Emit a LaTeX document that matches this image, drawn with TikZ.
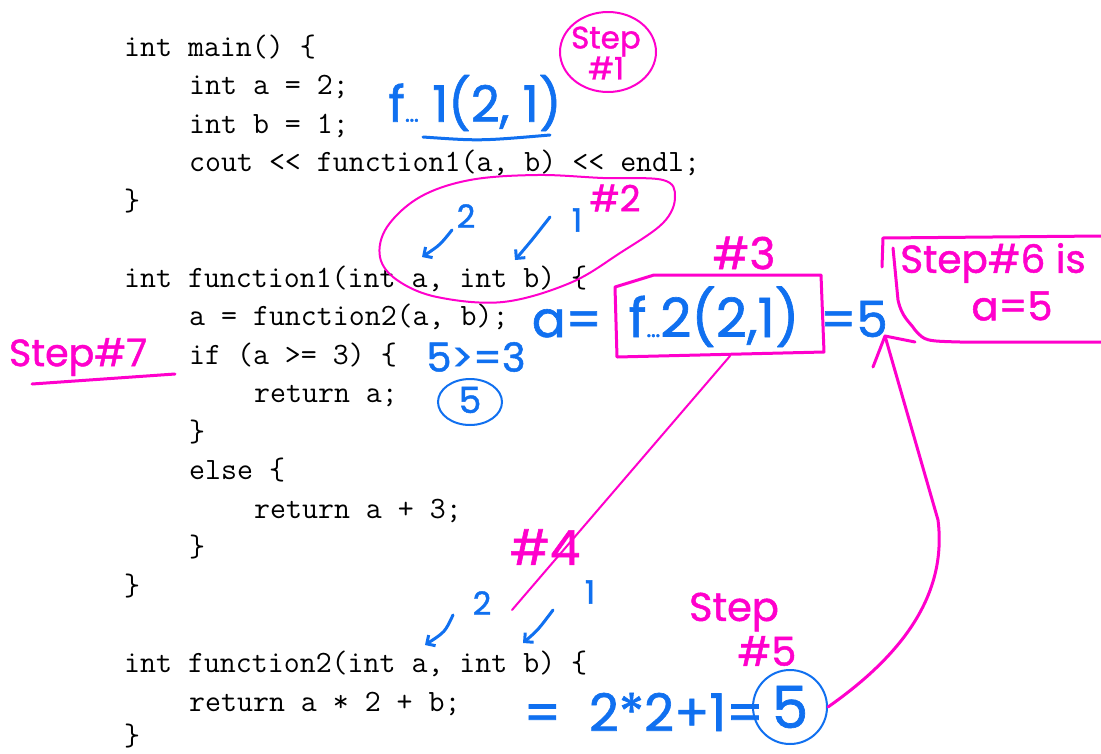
\documentclass[tikz,border=0pt]{standalone}
\usepackage{fontspec}
\newfontfamily\handfont{Poppins}[FakeBold=1.2]
\usetikzlibrary{arrows.meta}
\definecolor{pen}{RGB}{255,0,204}
\definecolor{ink}{RGB}{16,112,240}
\begin{document}
\begin{tikzpicture}[x=1pt,y=-1pt,
  codeline/.style={anchor=base west,inner sep=0pt,font=\fontsize{31}{38}\selectfont\ttfamily},
  pinkline/.style={draw=pen,line width=2pt,line cap=round,line join=round},
  pinkthick/.style={draw=pen,line width=3pt,line cap=round,line join=round},
  blueline/.style={draw=ink,line width=3pt,line cap=round,line join=round},
  bluethin/.style={draw=ink,line width=2pt,line cap=round},
  bluearrow/.style={blueline,-{Straight Barb[angle=90:9pt,line width=3pt]}},
  pinktext/.style={text=pen,inner sep=0pt,align=center,font=\handfont\fontsize{#1}{#1}\selectfont},
  bluetext/.style={text=ink,inner sep=0pt,font=\handfont\fontsize{#1}{#1}\selectfont},
]
\useasboundingbox (0,0) rectangle (1101,753);
\fill[white] (0,0) rectangle (1101,753);

% ---------------- code ----------------
\node[codeline] (l0)  at (124,56.2)   {int main() \{};
\node[codeline] (l1)  at (189,94.72)  {int a = 2;};
\node[codeline] (l2)  at (189,133.24) {int b = 1;};
\node[codeline] (l3)  at (189,171.76) {cout <{}< function1(a, b) <{}< endl;};
\node[codeline] (l4)  at (124,210.28) {\}};
\node[codeline] (l6)  at (124,287.32) {int function1(int a, int b) \{};
\node[codeline] (l7)  at (189,325.84) {a = function2(a, b);};
\node[codeline] (l8)  at (189,364.36) {if (a >= 3) \{};
\node[codeline] (l9)  at (254,402.88) {return a;};
\node[codeline] (l10) at (189,441.4)  {\}};
\node[codeline] (l11) at (189,479.92) {else \{};
\node[codeline] (l12) at (254,518.44) {return a + 3;};
\node[codeline] (l13) at (189,556.96) {\}};
\node[codeline] (l14) at (124,595.48) {\}};
\node[codeline] (l16) at (124,672.52) {int function2(int a, int b) \{};
\node[codeline] (l17) at (189,711.04) {return a * 2 + b;};
\node[codeline] (l18) at (124,745)    {\}};

% ---------------- step 1 ----------------
\node[pinktext=31] (s1) at (606,53) {Step\\\#1};
\draw[pinkline] (608,52) ellipse [x radius=48, y radius=40];
\node[bluetext=50] (f1) at (475,103) {f{\fontsize{24}{24}\selectfont…} 1(2, 1)};
\draw[blueline] (423,137) .. controls (480,141) .. (550,135);

% ---------------- step 2 ----------------
\draw[pinkline] plot[smooth cycle, tension=0.6] coordinates {(663,180) (603,178) (537,175) (470,180) (420,197) (387,227) (380,257) (397,280) (437,297) (503,302) (570,283) (620,253) (663,223) (675,197)};
\node[pinktext=36] (h2) at (615,198) {\#2};
\coordinate (a1s) at (452,230); \coordinate (a1e) at (422,257);
\coordinate (a2s) at (550,217); \coordinate (a2e) at (515,260);
\draw[bluearrow] (a1s) .. controls (440,245) .. (a1e);
\draw[bluearrow] (a2s) .. controls (532,240) .. (a2e);
\node[bluetext=32] (n2a) at (466,216) {2};
\node[bluetext=32] (n1a) at (577,220) {1};

% ---------------- step 3 ----------------
\node[pinktext=44] (h3) at (744,253) {\#3};
\draw[pinkthick] (615,287) -- (654,275) -- (821,275) -- (824,352) -- (617,357) -- cycle;
\node[bluetext=50,anchor=base east] (aeq) at (602,337) {a=};
\node[bluetext=54,anchor=base] (f2) at (714,337) {f{\fontsize{24}{24}\selectfont…}2(2,1)};
\node[bluetext=50,anchor=base west] (eq5) at (820,337) {=5};

% ---------------- step 6 ----------------
\draw[pinkthick] (883,238) -- (1101,236);
\draw[pinkthick] (883,238) -- (882,267);
\draw[pinkthick] (893,248) -- (898,300) .. controls (902,318) and (910,322) .. (915,330) .. controls (925,341) .. (960,342) -- (1101,342);
\node[pinktext=39] (s6) at (993,263) {Step\#6 is};
\node[pinktext=40] (s6b) at (1012,306) {a=5};

% ---------------- step 7 ----------------
\node[pinktext=38] (s7) at (78,357) {Step\#7};
\draw[pinkthick] (32,384) -- (175,374);
\node[bluetext=40] (cmp) at (476,357) {5>=3};
\node[bluetext=36] (r5) at (470,400) {5};
\draw[bluethin] (470,402) ellipse [x radius=32, y radius=23];

% ---------------- step 4 ----------------
\coordinate (box3b) at (730,356);
\coordinate (l4end) at (512,610);
\draw[pinkline] (box3b) -- (l4end);
\node[pinktext=48] (h4) at (545,547) {\#4};
\coordinate (b1s) at (453,615); \coordinate (b1e) at (425,645);
\coordinate (b2s) at (553,610); \coordinate (b2e) at (523,643);
\draw[bluearrow] (b1s) .. controls (445,632) .. (b1e);
\draw[bluearrow] (b2s) .. controls (538,630) .. (b2e);
\node[bluetext=32] (n2b) at (482,603) {2};
\node[bluetext=32] (n1b) at (590,592) {1};

% ---------------- step 5 ----------------
\node[pinktext=40] (s5a) at (734,612) {Step};
\node[pinktext=40] (s5b) at (767,651) {\#5};
\node[bluetext=52,anchor=east] (calc) at (764,712) {=\ \ 2*2+1=};
\node[bluetext=58,draw=ink,line width=2pt,circle,minimum size=74pt,inner sep=0pt] (c5) at (790,707) {5};

% ---------------- return arrow ----------------
\coordinate (bend) at (938,520);
\coordinate (tip6) at (885,336);
\draw[pinkthick] (c5.east) .. controls (895,660) and (948,600) .. (bend) -- (tip6);
\draw[pinkthick] (873,367) -- (tip6) -- (915,342);
\end{tikzpicture}
\end{document}
